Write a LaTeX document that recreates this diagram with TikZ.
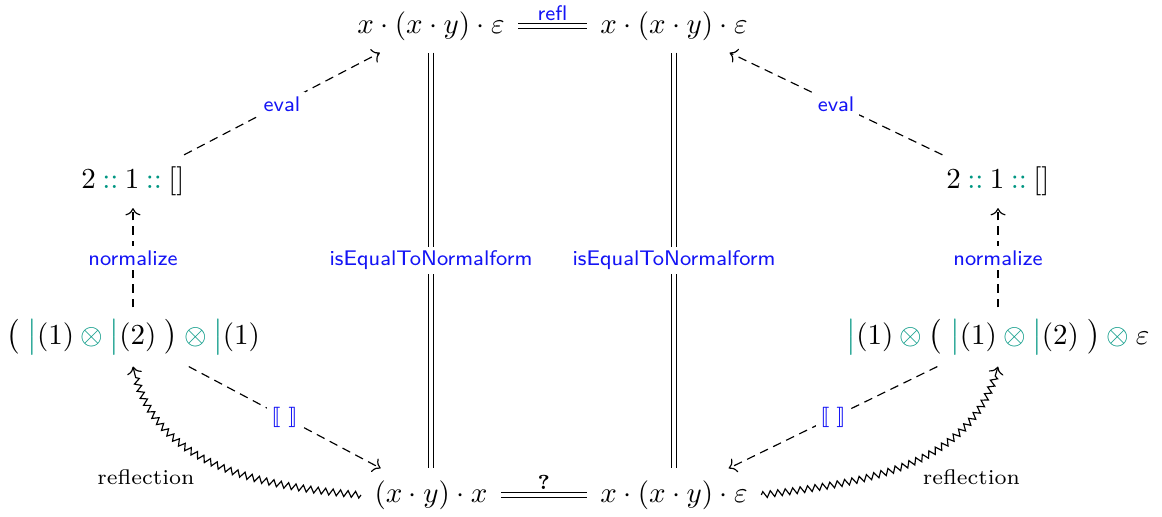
\documentclass[tikz,border=0pt]{standalone}
\usepackage{xcolor}
\usepackage{amsmath}
\usepackage{amssymb}
\usepackage{stmaryrd}
\usepackage{tikz}
\usetikzlibrary{arrows.meta, positioning, decorations.pathmorphing}
\definecolor{myblue}{RGB}{20,20,245}
\definecolor{myteal}{RGB}{0,150,130}
\newcommand{\tbar}{{\color{myteal}\big|}}
\newcommand{\tcons}{\mathbin{\color{myteal}::}}
\newcommand{\totimes}{\mathbin{\color{myteal}\otimes}}
\newcommand{\lblsize}{\fontsize{7.3pt}{9pt}\selectfont}
\tikzset{
  term/.style={inner xsep=4.5pt, inner ysep=4pt},
  lbl/.style={font=\sffamily\lblsize, text=myblue, fill=white, inner sep=1.5pt},
  darrow/.style={->, dash pattern=on 3pt off 2pt},
  eqline/.style={double, double distance=1.2pt},
  wiggle/.style={->, decorate, decoration={zigzag, segment length=2.6pt, amplitude=1.1pt, post length=3pt}},
  refllbl/.style={font=\lblsize}
}

\begin{document}
\begin{tikzpicture}
  \useasboundingbox (0,0) rectangle (14.085,6.255);
  % terms
  \node[term] (ltop) at (5.224,5.939) {$x\cdot(x\cdot y)\cdot\varepsilon$};
  \node[term] (rtop) at (8.170,5.939) {$x\cdot(x\cdot y)\cdot\varepsilon$};
  \node[term] (llist) at (1.612,4.055) {$2\tcons 1\tcons []$};
  \node[term] (rlist) at (12.097,4.055) {$2\tcons 1\tcons []$};
  \node[term] (ltens) at (1.612,2.170) {$\bigl(\;\tbar(1)\totimes\tbar(2)\;\bigr)\totimes\tbar(1)$};
  \node[term] (rtens) at (12.097,2.170) {$\tbar(1)\totimes\bigl(\;\tbar(1)\totimes\tbar(2)\;\bigr)\totimes\varepsilon$};
  \node[term] (lbot) at (5.224,0.255) {$(x\cdot y)\cdot x$};
  \node[term] (rbot) at (8.170,0.255) {$x\cdot(x\cdot y)\cdot\varepsilon$};

  % equalities
  \draw[eqline] (ltop) -- node[lbl, fill=none, above] {refl} (rtop);
  \draw[eqline] (ltop) -- node[lbl] {isEqualToNormalform} (lbot);
  \draw[eqline] (rtop) -- node[lbl] {isEqualToNormalform} (rbot);
  \draw[eqline] (lbot) -- node[above, inner sep=1.6pt, font=\scriptsize\bfseries] {?} (rbot);

  % left side
  \draw[darrow] (ltens) -- node[lbl] {normalize} (llist);
  \draw[darrow] (llist) -- node[lbl] {eval} (ltop);
  \draw[darrow] (ltens) -- node[lbl] {$\llbracket\;\rrbracket$} (lbot);
  \draw[wiggle] (lbot.west) to[out=175, in=-78] node[refllbl, pos=0.5, anchor=north east, xshift=-4.1pt, yshift=1.8pt] {reflection} (ltens.south);

  % right side
  \draw[darrow] (rtens) -- node[lbl] {normalize} (rlist);
  \draw[darrow] (rlist) -- node[lbl] {eval} (rtop);
  \draw[darrow] (rtens) -- node[lbl] {$\llbracket\;\rrbracket$} (rbot);
  \draw[wiggle] (rbot.east) to[out=7, in=-105] node[refllbl, pos=0.5, anchor=north west, xshift=1.4pt, yshift=1.5pt] {reflection} (rtens.south);
\end{tikzpicture}
\end{document}
